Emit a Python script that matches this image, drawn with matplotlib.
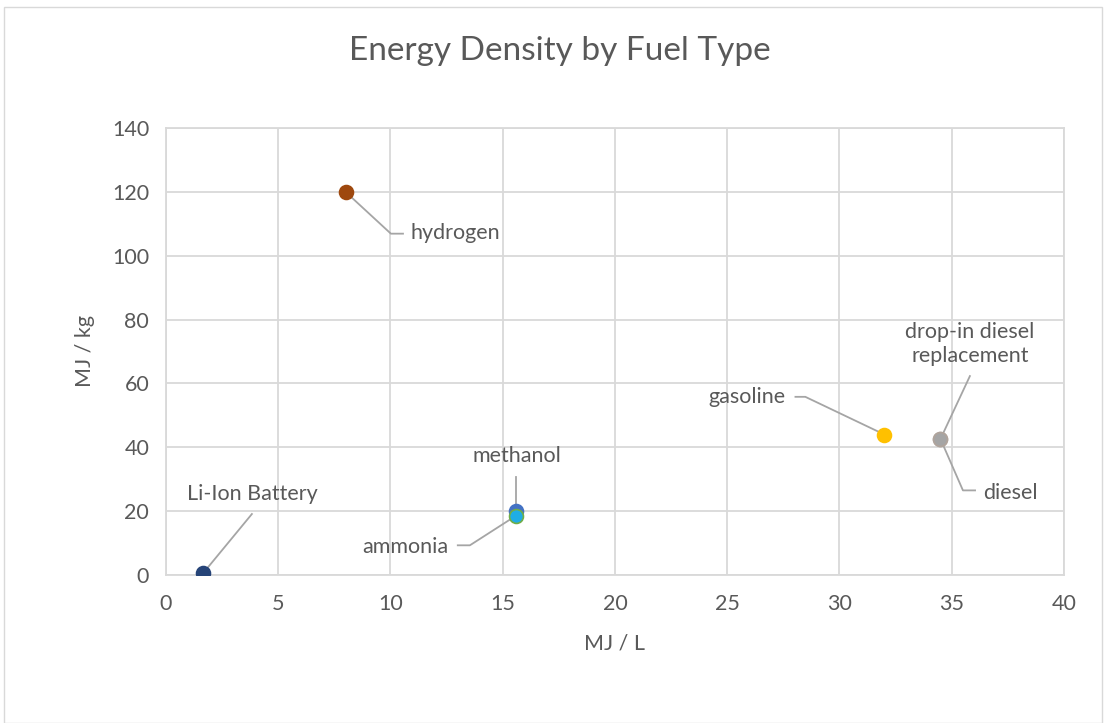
import matplotlib
matplotlib.use("Agg")
import matplotlib.pyplot as plt
from matplotlib.patches import Rectangle

plt.rcParams['font.family'] = ['Lato', 'DejaVu Sans']

# Data
fuels = ["Li-Ion Battery", "hydrogen", "methanol", "ammonia", "gasoline",
         "drop-in diesel\nreplacement", "diesel"]
mj_per_l = [1.65, 8.0, 15.6, 15.6, 32.0, 34.5, 34.5]
mj_per_kg = [0.5, 120.0, 19.9, 18.6, 44.0, 42.6, 42.6]
face_colors = ["#264478", "#9E480E", "#4472C4", "#1FADE6", "#FFC000", "#A5A5A5", "#A5A5A5"]
edge_colors = ["#264478", "#9E480E", "#4472C4", "#70AD47", "#FFC000", "#B0A49C", "#B0A49C"]
x_ticks = [0, 5, 10, 15, 20, 25, 30, 35, 40]
y_ticks = [0, 20, 40, 60, 80, 100, 120, 140]

# Label layout (leader line path, text position, alignment)
label_layout = {
    "Li-Ion Battery": dict(path=[(3.83, 19.1)], text=(3.83, 25.4), ha="center"),
    "hydrogen": dict(path=[(10.02, 106.9), (10.56, 106.9)], text=(10.9, 107.0), ha="left"),
    "methanol": dict(path=[(15.6, 30.7)], text=(15.65, 37.2), ha="center"),
    "ammonia": dict(path=[(13.54, 9.3), (13.0, 9.3)], text=(12.6, 8.9), ha="right"),
    "gasoline": dict(path=[(28.48, 55.8), (28.04, 55.8)], text=(27.6, 55.6), ha="right"),
    "drop-in diesel\nreplacement": dict(path=[(35.81, 62.3)], text=(35.81, 72.4), ha="center"),
    "diesel": dict(path=[(35.5, 26.5), (36.04, 26.5)], text=(36.4, 25.8), ha="left"),
}

text_color = "#595959"
grid_color = "#D9D9D9"
fs = 15.5

fig = plt.figure(figsize=(11.06, 7.23), dpi=100)
fig.patches.append(Rectangle((0.004, 0.0), 0.992, 0.99, transform=fig.transFigure,
                             fill=False, edgecolor="#D9D9D9", linewidth=1.0))
ax = fig.add_axes([0.150, 0.2047, 0.812, 0.6183])

ax.set_xlim(0, 40)
ax.set_ylim(0, 140)
ax.set_xticks(x_ticks)
ax.set_yticks(y_ticks)
ax.grid(True, color=grid_color, linewidth=1.3)
ax.set_axisbelow(True)
for s in ax.spines.values():
    s.set_color(grid_color)
    s.set_linewidth(1.3)
ax.tick_params(length=0, labelsize=fs, colors=text_color, pad=14)
ax.tick_params(axis="y", pad=12)

for i, name in enumerate(fuels):
    lay = label_layout[name]
    xs = [mj_per_l[i]] + [p[0] for p in lay["path"]]
    ys = [mj_per_kg[i]] + [p[1] for p in lay["path"]]
    ax.plot(xs, ys, color="#A5A5A5", linewidth=1.3, zorder=2)

for i, name in enumerate(fuels):
    ax.scatter(mj_per_l[i], mj_per_kg[i], s=100, color=face_colors[i],
               edgecolors=edge_colors[i], linewidths=1.2, zorder=3 + i)

for name in fuels:
    lay = label_layout[name]
    ax.text(lay["text"][0], lay["text"][1], name, ha=lay["ha"], va="center",
            fontsize=fs, color=text_color, linespacing=1.25, zorder=10)

ax.set_xlabel("MJ / L", fontsize=fs, color=text_color, labelpad=14)
ax.set_ylabel("MJ / kg", fontsize=fs, color=text_color, labelpad=12)
fig.text(0.506, 0.93, "Energy Density by Fuel Type", ha="center", va="center",
         fontsize=24, color=text_color)

fig.savefig("out.png", dpi=100)
